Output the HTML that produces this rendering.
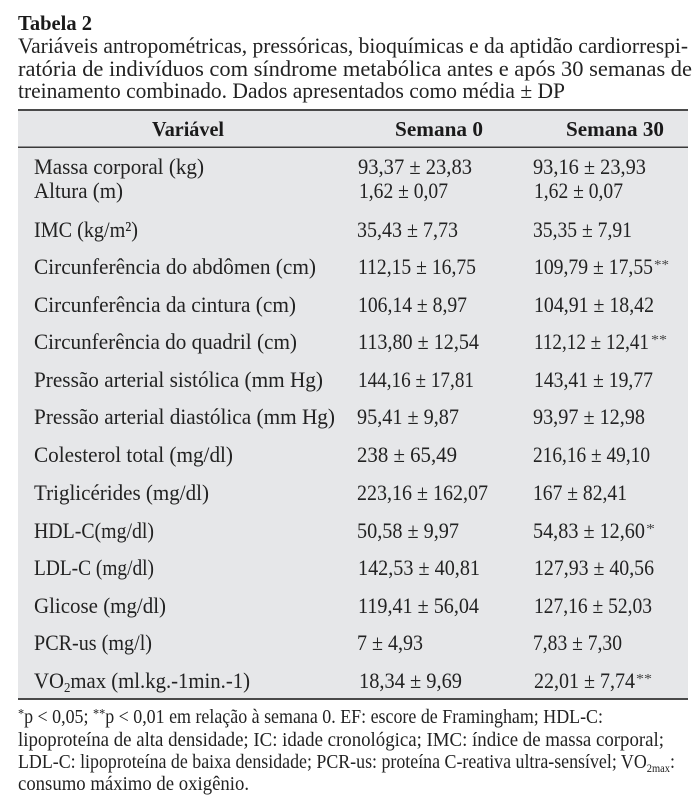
<!DOCTYPE html>
<html lang="pt">
<head>
<meta charset="utf-8">
<title>Tabela 2</title>
<style>
html,body{margin:0;padding:0;background:#fff;width:700px;height:807px;overflow:hidden}
svg{display:block}
text{font-family:"Liberation Serif",serif;fill:#222;font-size:22.5px}
.h{font-weight:bold;font-size:21.5px;fill:#1a1a1a}
.t{font-size:22.5px}
.f{font-size:20.5px}
.s{font-size:14px;fill:#444}
</style>
</head>
<body>
<svg xmlns="http://www.w3.org/2000/svg" width="700" height="807" viewBox="0 0 700 807">
<rect x="18" y="110" width="670" height="589" fill="#e6e7e9"/>
<rect x="18" y="109" width="670" height="2" fill="#4a4a4a"/>
<rect x="18" y="146.500" width="670" height="1.500" fill="#3a3a3a"/>
<rect x="18" y="698" width="670" height="2" fill="#4a4a4a"/>

<text class="h" x="18" y="30" textLength="74" lengthAdjust="spacingAndGlyphs">Tabela 2</text>
<text class="t" x="18" y="53" textLength="670" lengthAdjust="spacingAndGlyphs">Variáveis antropométricas, pressóricas, bioquímicas e da aptidão cardiorrespi-</text>
<text class="t" x="18" y="76" textLength="674" lengthAdjust="spacingAndGlyphs">ratória de indivíduos com síndrome metabólica antes e após 30 semanas de</text>
<text class="t" x="18" y="98" textLength="547" lengthAdjust="spacingAndGlyphs">treinamento combinado. Dados apresentados como média ± DP</text>

<text class="h" x="152" y="136" textLength="72" lengthAdjust="spacingAndGlyphs">Variável</text>
<text class="h" x="395" y="136" textLength="88" lengthAdjust="spacingAndGlyphs">Semana 0</text>
<text class="h" x="566" y="136" textLength="98" lengthAdjust="spacingAndGlyphs">Semana 30</text>

<g>
<text x="34" y="174" textLength="170" lengthAdjust="spacingAndGlyphs">Massa corporal (kg)</text>
<text x="358" y="174" textLength="114" lengthAdjust="spacingAndGlyphs">93,37 ± 23,83</text>
<text x="533" y="174" textLength="113" lengthAdjust="spacingAndGlyphs">93,16 ± 23,93</text>
</g>
<g>
<text x="34" y="198" textLength="89" lengthAdjust="spacingAndGlyphs">Altura (m)</text>
<text x="359" y="198" textLength="89" lengthAdjust="spacingAndGlyphs">1,62 ± 0,07</text>
<text x="534" y="198" textLength="89" lengthAdjust="spacingAndGlyphs">1,62 ± 0,07</text>
</g>
<g>
<text x="34" y="237" textLength="104" lengthAdjust="spacingAndGlyphs">IMC (kg/m²)</text>
<text x="357" y="237" textLength="101" lengthAdjust="spacingAndGlyphs">35,43 ± 7,73</text>
<text x="533" y="237" textLength="99" lengthAdjust="spacingAndGlyphs">35,35 ± 7,91</text>
</g>
<g>
<text x="34" y="274" textLength="282" lengthAdjust="spacingAndGlyphs">Circunferência do abdômen (cm)</text>
<text x="358" y="274" textLength="118" lengthAdjust="spacingAndGlyphs">112,15 ± 16,75</text>
<text x="534" y="274" textLength="119" lengthAdjust="spacingAndGlyphs">109,79 ± 17,55</text>
<text class="s" x="654" y="269" textLength="15" lengthAdjust="spacingAndGlyphs">**</text>
</g>
<g>
<text x="34" y="312" textLength="262" lengthAdjust="spacingAndGlyphs">Circunferência da cintura (cm)</text>
<text x="358" y="312" textLength="109" lengthAdjust="spacingAndGlyphs">106,14 ± 8,97</text>
<text x="534" y="312" textLength="120" lengthAdjust="spacingAndGlyphs">104,91 ± 18,42</text>
</g>
<g>
<text x="34" y="349" textLength="263" lengthAdjust="spacingAndGlyphs">Circunferência do quadril (cm)</text>
<text x="358" y="349" textLength="121" lengthAdjust="spacingAndGlyphs">113,80 ± 12,54</text>
<text x="534" y="349" textLength="115" lengthAdjust="spacingAndGlyphs">112,12 ± 12,41</text>
<text class="s" x="651" y="344" textLength="16" lengthAdjust="spacingAndGlyphs">**</text>
</g>
<g>
<text x="34" y="387" textLength="289" lengthAdjust="spacingAndGlyphs">Pressão arterial sistólica (mm Hg)</text>
<text x="358" y="387" textLength="116" lengthAdjust="spacingAndGlyphs">144,16 ± 17,81</text>
<text x="534" y="387" textLength="119" lengthAdjust="spacingAndGlyphs">143,41 ± 19,77</text>
</g>
<g>
<text x="34" y="424" textLength="301" lengthAdjust="spacingAndGlyphs">Pressão arterial diastólica (mm Hg)</text>
<text x="357" y="424" textLength="102" lengthAdjust="spacingAndGlyphs">95,41 ± 9,87</text>
<text x="533" y="424" textLength="112" lengthAdjust="spacingAndGlyphs">93,97 ± 12,98</text>
</g>
<g>
<text x="34" y="462" textLength="199" lengthAdjust="spacingAndGlyphs">Colesterol total (mg/dl)</text>
<text x="357" y="462" textLength="100" lengthAdjust="spacingAndGlyphs">238 ± 65,49</text>
<text x="533" y="462" textLength="117" lengthAdjust="spacingAndGlyphs">216,16 ± 49,10</text>
</g>
<g>
<text x="34" y="500" textLength="175" lengthAdjust="spacingAndGlyphs">Triglicérides (mg/dl)</text>
<text x="357" y="500" textLength="131" lengthAdjust="spacingAndGlyphs">223,16 ± 162,07</text>
<text x="533" y="500" textLength="94" lengthAdjust="spacingAndGlyphs">167 ± 82,41</text>
</g>
<g>
<text x="34" y="538" textLength="120" lengthAdjust="spacingAndGlyphs">HDL-C(mg/dl)</text>
<text x="357" y="538" textLength="102" lengthAdjust="spacingAndGlyphs">50,58 ± 9,97</text>
<text x="533" y="538" textLength="112" lengthAdjust="spacingAndGlyphs">54,83 ± 12,60</text>
<text class="s" x="646" y="533" textLength="9" lengthAdjust="spacingAndGlyphs">*</text>
</g>
<g>
<text x="34" y="575" textLength="120" lengthAdjust="spacingAndGlyphs">LDL-C (mg/dl)</text>
<text x="358" y="575" textLength="122" lengthAdjust="spacingAndGlyphs">142,53 ± 40,81</text>
<text x="534" y="575" textLength="120" lengthAdjust="spacingAndGlyphs">127,93 ± 40,56</text>
</g>
<g>
<text x="34" y="613" textLength="132" lengthAdjust="spacingAndGlyphs">Glicose (mg/dl)</text>
<text x="358" y="613" textLength="121" lengthAdjust="spacingAndGlyphs">119,41 ± 56,04</text>
<text x="534" y="613" textLength="118" lengthAdjust="spacingAndGlyphs">127,16 ± 52,03</text>
</g>
<g>
<text x="34" y="650" textLength="118" lengthAdjust="spacingAndGlyphs">PCR-us (mg/l)</text>
<text x="357" y="650" textLength="66" lengthAdjust="spacingAndGlyphs">7 ± 4,93</text>
<text x="533" y="650" textLength="89" lengthAdjust="spacingAndGlyphs">7,83 ± 7,30</text>
</g>
<g>
<text x="34" y="688" textLength="216" lengthAdjust="spacingAndGlyphs">VO<tspan font-size="14" dy="4">2</tspan><tspan dy="-4">max (ml.kg.-1min.-1)</tspan></text>
<text x="359" y="688" textLength="103" lengthAdjust="spacingAndGlyphs">18,34 ± 9,69</text>
<text x="534" y="688" textLength="101" lengthAdjust="spacingAndGlyphs">22,01 ± 7,74</text>
<text class="s" x="636" y="683" textLength="16" lengthAdjust="spacingAndGlyphs">**</text>
</g>

<text class="f" x="18" y="723" textLength="585" lengthAdjust="spacingAndGlyphs"><tspan font-size="14" dy="-5">*</tspan><tspan dy="5">p &lt; 0,05; </tspan><tspan font-size="14" dy="-5">**</tspan><tspan dy="5">p &lt; 0,01 em relação à semana 0. EF: escore de Framingham; HDL-C:</tspan></text>
<text class="f" x="18" y="746" textLength="646" lengthAdjust="spacingAndGlyphs">lipoproteína de alta densidade; IC: idade cronológica; IMC: índice de massa corporal;</text>
<text class="f" x="18" y="768" textLength="657" lengthAdjust="spacingAndGlyphs">LDL-C: lipoproteína de baixa densidade; PCR-us: proteína C-reativa ultra-sensível; VO<tspan font-size="12" dy="4">2max</tspan><tspan dy="-4">:</tspan></text>
<text class="f" x="18" y="790" textLength="231" lengthAdjust="spacingAndGlyphs">consumo máximo de oxigênio.</text>
</svg>
</body>
</html>
